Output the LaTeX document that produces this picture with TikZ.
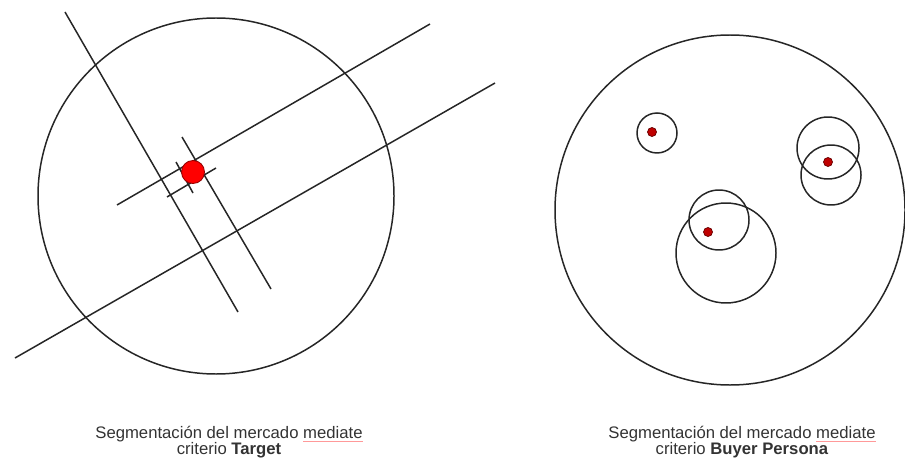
\documentclass[tikz,border=0pt]{standalone}
\usepackage{fontspec}
\setmainfont{Liberation Sans}
\usepackage{tikz}
\usetikzlibrary{positioning}

\newcommand\spellmark[1]{\leavevmode\setbox0\hbox{#1}\rlap{\color{red!40}\rule[-1.8pt]{\wd0}{0.35pt}}\box0}

\begin{document}
\begin{tikzpicture}[x=0.02cm, y=-0.02cm, line width=0.85pt, every node/.style={align=center}]
      \colorlet{colline}{black!85} \colorlet{colred}{red}
      \colorlet{coldot}{red!75!black} \colorlet{coltext}{black!80}
      \useasboundingbox (0,0) rectangle (905,459);

      % left: target
      \draw[colline] (216,196) circle[radius=178];
      \foreach \xa/\ya/\xb/\yb in {65/12/238/312, 117/205/430/24, 15/358/495/83,
                                   182/137/271/289, 167/197/216/168, 176/162/193/193} {
        \draw[colline] (\xa,\ya) -- (\xb,\yb);
      }
      \draw[fill=colred, draw=red!60!black, line width=0.5pt] (193,172) circle[radius=11.5];

      % right: buyer persona
      \draw[colline] (730,210) circle[radius=175];
      \foreach \x/\y/\r in {657/133/20, 828/148/31, 831/175/30, 719/220/30, 726/253/50} {
        \draw[colline] (\x,\y) circle[radius=\r];
      }
      \foreach \x/\y in {652/132, 828/162, 708/232} {
        \draw[fill=coldot, draw=red!40!black, line width=0.4pt] (\x,\y) circle[radius=4.5];
      }

      \node[font=\fontsize{9.5}{9}\selectfont, text=coltext] (captarget) at (229,442)
        {Segmentación del mercado \spellmark{mediate}\\ criterio \textbf{Target}};
      \node[font=\fontsize{9.5}{9}\selectfont, text=coltext] (capbuyer) at (742,442)
        {Segmentación del mercado \spellmark{mediate}\\ criterio \textbf{Buyer Persona}};
    \end{tikzpicture}
\end{document}
